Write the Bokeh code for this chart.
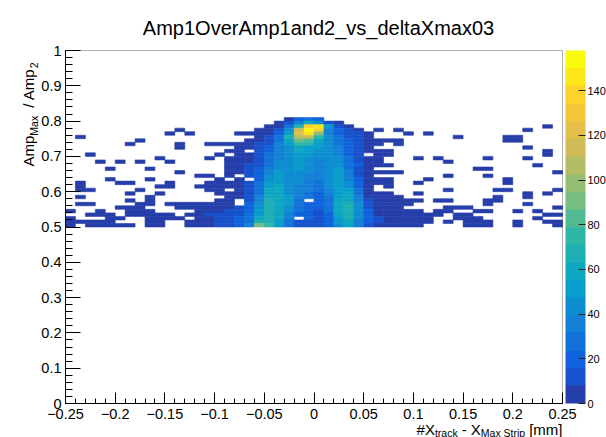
import math
import numpy as np
from bokeh.plotting import figure
from bokeh.models import (LinearColorMapper, ColorBar, FixedTicker, SingleIntervalTicker,
                          Label, ColumnDataSource, BoxAnnotation, Range1d)
from bokeh.embed import file_html
from bokeh.resources import INLINE

# ---------------- data ----------------
TITLE = "Amp1OverAmp1and2_vs_deltaXmax03"
X_MIN, X_MAX = -0.25, 0.25
Y_MIN, Y_MAX = 0.0, 1.0
X_LO, X_BIN = -0.25, 0.01          # 50 bins over [-0.25, 0.25]
Y_LO, Y_BIN = 0.50, 0.01           # rows start at 0.50
ZMAX = 158

# histogram cells, top row (0.80) first; one char per x-bin, '.' = empty
ROWS_TOP_DOWN = [
    ".......... .......... ..0232.... .......... ..........",
    ".......... .......... .0147510.. .......... ..........",
    ".......... .......... 0038HI610. .......... ........0.",
    ".......... .0.......0 015EJH4210 .0.0...... ......0...",
    ".......... 0.0....000 026FIC4211 0...0.0... ..........",
    ".0........ .........0 138DE95311 0........0 ....00....",
    ".......0.. ........00 137BA75321 0000...... ....00....",
    "......0... .0..000001 1469965321 00.0...... ..........",
    ".......... .0.....001 2457665421 0......... ......0...",
    ".......... ......00.1 2457655421 000....... ........0.",
    "..0....... .....0.001 3456655421 .00....... ........0.",
    ".........0 ....0.0001 3456555531 00...0.0.. ..0...0...",
    "...0.0.0.. 0.....0001 3556545531 00......0. ..........",
    ".......... ......0011 3556545532 000....... .......0..",
    "....0...0. ......0012 4556545631 0......... .00.......",
    ".......... .0....0012 4655545641 0000...... .........0",
    ".......... ...00.0.12 5655445641 0.......0. ..0.......",
    "....0...0. .....0.0.2 5655445642 000...0... ....0.....",
    ".0...00... 0...000013 6655435652 000..0.... ....0.....",
    ".0.......0 0..0000013 6754435652 0.0....... ..........",
    ".00....0.. ....00.013 7754434663 0.......0. ...00....0",
    "......0..0 .....00013 7754324673 000..0.... ......0.0.",
    ".0......0. ......0014 7764323674 0000...... ...0..0...",
    "......0.0. .....00.14 8763.23774 100000.00. ..00......",
    ".00....00. 0000000.25 8763223785 10000..... ..0...0...",
    ".....000.. .000000125 8753223785 1000....00 0........0",
    "0..0..000. ...0001126 8753213785 200000.00. .00..0.0..",
    "..000.0000 0.00111136 8742212785 20000000.0 0.......00",
    "0...00..00 00.0011237 874.212685 2100000..0 00.....0..",
    "00000...00 ..00011238 8631112674 2100000.0. 000..0..00",
    "0.00000.00 ..0001124B 9631112574 100000.... 000..0...0",
]
# entries per cell for each character code
LEVEL_COUNTS = {
    "0": 3, "1": 12, "2": 20, "3": 28, "4": 36, "5": 43, "6": 51, "7": 59,
    "8": 67, "9": 75, "A": 83, "B": 91, "C": 99, "D": 107, "E": 115,
    "F": 122, "G": 130, "H": 138, "I": 146, "J": 156,
}

X_TICKS = [-0.25, -0.2, -0.15, -0.1, -0.05, 0.0, 0.05, 0.1, 0.15, 0.2, 0.25]
X_TICK_LABELS = ["\u22120.25", "\u22120.2", "\u22120.15", "\u22120.1", "\u22120.05", "0",
                 "0.05", "0.1", "0.15", "0.2", "0.25"]
Y_TICKS = [0.0, 0.1, 0.2, 0.3, 0.4, 0.5, 0.6, 0.7, 0.8, 0.9, 1.0]
Y_TICK_LABELS = ["0", "0.1", "0.2", "0.3", "0.4", "0.5", "0.6", "0.7", "0.8", "0.9", "1"]
Z_TICK_STEP = 20

# axis titles as (text, is_subscript, gap_before)
X_TITLE = [("#X", False, 0), ("track", True, 0), ("- X", False, 4), ("Max Strip", True, 0),
           ("[mm]", False, 4)]
Y_TITLE = [("Amp", False, 0), ("Max", True, 0), ("/ Amp", False, 8), ("2", True, 0.5)]

# ---------------- palette (ROOT kBird, 20 contour bands) ----------------
STOPS = [0.0, 0.125, 0.25, 0.375, 0.5, 0.625, 0.75, 0.875, 1.0]
RED = [0.2082, 0.0592, 0.0780, 0.0232, 0.1802, 0.5301, 0.8186, 0.9956, 0.9764]
GRN = [0.1664, 0.3599, 0.5041, 0.6419, 0.7178, 0.7492, 0.7328, 0.7862, 0.9832]
BLU = [0.5293, 0.8684, 0.8385, 0.7914, 0.6425, 0.4662, 0.3499, 0.1968, 0.0539]
NBANDS = 20
PALETTE = []
for b in range(NBANDS):
    f = min((b + 0.99) / NBANDS, 1.0)
    r = np.interp(f, STOPS, RED); g = np.interp(f, STOPS, GRN); bl = np.interp(f, STOPS, BLU)
    PALETTE.append("#%02x%02x%02x" % (int(round(r * 255)), int(round(g * 255)), int(round(bl * 255))))

mapper = LinearColorMapper(palette=PALETTE, low=0, high=ZMAX)

# ---------------- cells ----------------
left, right, bottom, top, count = [], [], [], [], []
nrows = len(ROWS_TOP_DOWN)
for r_i, row in enumerate(ROWS_TOP_DOWN):
    k = nrows - 1 - r_i
    cells = row.replace(" ", "")
    for i, ch in enumerate(cells):
        if ch == ".":
            continue
        left.append(X_LO + i * X_BIN)
        right.append(X_LO + (i + 1) * X_BIN)
        bottom.append(Y_LO + k * Y_BIN)
        top.append(Y_LO + (k + 1) * Y_BIN)
        count.append(LEVEL_COUNTS[ch])
src = ColumnDataSource(dict(left=left, right=right, bottom=bottom, top=top, count=count))

# ---------------- layout (pixels) ----------------
W, H = 606, 437
PL, PR, PT, PB = 65, 562, 50, 403      # histogram frame box in canvas pixels
FONT = "Liberation Sans"
xpp = (X_MAX - X_MIN) / (PR - PL)
ypp = (Y_MAX - Y_MIN) / (PB - PT)
x_range = Range1d(X_MIN - PL * xpp, X_MAX + (W - PR) * xpp)
y_range = Range1d(Y_MIN - (H - PB) * ypp, Y_MAX + PT * ypp)

p = figure(width=W, height=H, x_range=x_range, y_range=y_range,
           output_backend="svg", toolbar_location=None,
           min_border=0, min_border_left=0, min_border_right=0,
           min_border_top=0, min_border_bottom=0,
           background_fill_color="white", border_fill_color="white")
p.grid.visible = False
p.outline_line_color = None

p.quad(left="left", right="right", bottom="bottom", top="top", source=src,
       fill_color={"field": "count", "transform": mapper},
       line_color={"field": "count", "transform": mapper}, line_width=0.6)

p.add_layout(BoxAnnotation(left=X_MIN, right=X_MAX, bottom=Y_MIN, top=Y_MAX,
                           fill_alpha=0, line_color="black", line_width=1))

xminor = [round(-0.25 + 0.01 * i, 3) for i in range(51)]
yminor = [round(0.02 * i, 3) for i in range(51)]
p.xaxis.ticker = FixedTicker(ticks=X_TICKS, minor_ticks=xminor)
p.yaxis.ticker = FixedTicker(ticks=Y_TICKS, minor_ticks=yminor)
p.xaxis.major_label_overrides = dict(zip(X_TICKS, X_TICK_LABELS))
p.yaxis.major_label_overrides = dict(zip(Y_TICKS, Y_TICK_LABELS))
p.xaxis.fixed_location = Y_MIN
p.yaxis.fixed_location = X_MIN
p.xaxis.bounds = (X_MIN, X_MAX)
p.yaxis.bounds = (Y_MIN, Y_MAX)

for ax, tin, mtin in ((p.xaxis, 11, 5), (p.yaxis, 15, 7)):
    ax.major_tick_in = tin
    ax.major_tick_out = 0
    ax.minor_tick_in = mtin
    ax.minor_tick_out = 0
    ax.axis_line_color = "black"
    ax.major_tick_line_color = "black"
    ax.minor_tick_line_color = "black"
    ax.major_label_text_font = FONT
    ax.major_label_text_font_size = "14.5px"
    ax.major_label_text_color = "black"
p.xaxis.major_label_standoff = 5
p.yaxis.major_label_standoff = 4

cb = ColorBar(color_mapper=mapper, location=(565, H - PB), width=20, height=PB - PT,
              padding=0, margin=0,
              ticker=SingleIntervalTicker(interval=Z_TICK_STEP, num_minor_ticks=0),
              major_label_text_font=FONT, major_label_text_font_size="11px",
              major_label_text_color="black", label_standoff=2,
              major_tick_in=7, major_tick_out=0, major_tick_line_color="#222222",
              minor_tick_line_color=None, bar_line_color=None,
              border_line_color=None, background_fill_color=None)
p.add_layout(cb)

# ---------------- texts ----------------
CHAR_W = {'A': .667, 'm': .833, 'p': .556, 'M': .833, 'a': .556, 'x': .5, ' ': .278, '/': .278,
          '2': .556, '#': .556, 'X': .667, 't': .278, 'r': .333, 'c': .5, 'k': .5, '-': .333,
          'S': .667, 'i': .222, '[': .278, ']': .278}
MAIN_SZ, SUB_SZ = 15, 10.5


def tw(s, size):
    return sum(CHAR_W.get(c, .556) for c in s) * size


def lab(cx, cy, text, size, **kw):
    p.add_layout(Label(x=cx, y=H - cy, x_units="screen", y_units="screen", text=text,
                       text_font=FONT, text_font_size="%gpx" % size,
                       text_baseline="alphabetic", text_color="black", **kw))


lab(318, 27, TITLE, 20, text_align="center")

# x-axis title, right aligned at frame end
total = sum(tw(s, SUB_SZ if sub else MAIN_SZ) + g for s, sub, g in X_TITLE)
cx = PR - total
for s, sub, g in X_TITLE:
    cx += g
    z = SUB_SZ if sub else MAIN_SZ
    lab(cx, 432 if sub else 428.5, s, z, text_align="left")
    cx += tw(s, z)

# y-axis title, rotated, top aligned near frame top
cy = 166.0
for s, sub, g in Y_TITLE:
    cy -= g
    z = SUB_SZ if sub else MAIN_SZ
    lab(33.5 if sub else 28, cy, s, z, text_align="left", angle=math.pi / 2)
    cy -= tw(s, z)

open("out.html", "w").write(file_html(p, INLINE))
